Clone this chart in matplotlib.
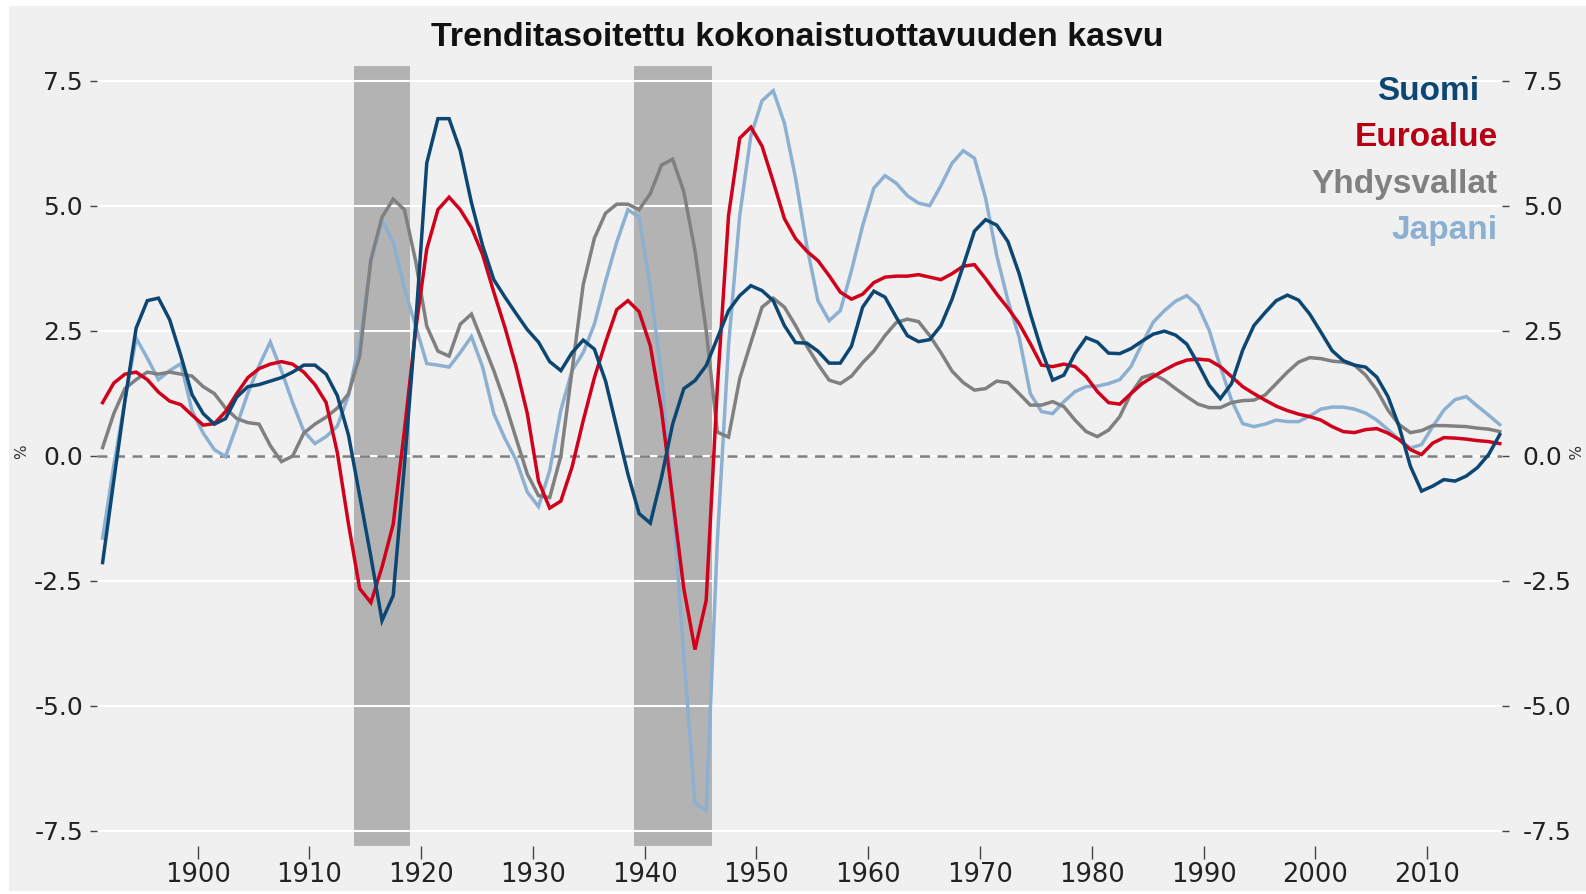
import matplotlib
matplotlib.use("Agg")
import matplotlib.pyplot as plt
import matplotlib.transforms as mtransforms
import numpy as np
from matplotlib.patches import Rectangle

plt.rcParams["axes.unicode_minus"] = False

# Annual values, 1891-2016 (%)
years = np.arange(1891, 2017)

suomi = [
    -2.14, -0.5, 1.1, 2.55, 3.1, 3.15, 2.72, 2.0, 1.22, 0.84,
    0.63, 0.74, 1.17, 1.38, 1.42, 1.49, 1.56, 1.67, 1.81, 1.81,
    1.63, 1.2, 0.41, -0.8, -2.02, -3.3, -2.8, -0.2, 2.6, 5.85,
    6.74, 6.74, 6.1, 5.06, 4.2, 3.52, 3.17, 2.84, 2.52, 2.27,
    1.88, 1.7, 2.06, 2.31, 2.13, 1.49, 0.56, -0.37, -1.16, -1.35,
    -0.44, 0.63, 1.34, 1.5, 1.8, 2.35, 2.9, 3.2, 3.4, 3.3,
    3.1, 2.6, 2.26, 2.25, 2.09, 1.85, 1.85, 2.19, 2.97, 3.29,
    3.17, 2.77, 2.4, 2.28, 2.32, 2.6, 3.13, 3.8, 4.49, 4.72,
    4.61, 4.28, 3.64, 2.84, 2.11, 1.51, 1.61, 2.04, 2.36, 2.27,
    2.05, 2.04, 2.14, 2.29, 2.43, 2.49, 2.41, 2.23, 1.84, 1.41,
    1.14, 1.44, 2.11, 2.6, 2.86, 3.1, 3.21, 3.11, 2.83, 2.47,
    2.1, 1.9, 1.81, 1.77, 1.57, 1.18, 0.58, -0.21, -0.71, -0.61,
    -0.48, -0.51, -0.41, -0.24, 0.02, 0.42,
]

euroalue = [
    1.06, 1.45, 1.63, 1.67, 1.52, 1.27, 1.09, 1.02, 0.81, 0.61,
    0.64, 0.88, 1.24, 1.56, 1.74, 1.83, 1.88, 1.83, 1.67, 1.42,
    1.06, 0.06, -1.37, -2.66, -2.94, -2.23, -1.37, 0.5, 2.5, 4.13,
    4.92, 5.17, 4.92, 4.56, 4.02, 3.27, 2.56, 1.77, 0.84, -0.51,
    -1.05, -0.91, -0.23, 0.7, 1.56, 2.27, 2.92, 3.1, 2.88, 2.2,
    0.91, -0.87, -2.66, -3.88, -2.9, 1.36, 4.8, 6.35, 6.57, 6.19,
    5.48, 4.74, 4.34, 4.09, 3.9, 3.6, 3.27, 3.13, 3.23, 3.46,
    3.57, 3.59, 3.59, 3.62, 3.57, 3.52, 3.64, 3.79, 3.82, 3.54,
    3.23, 2.95, 2.64, 2.24, 1.81, 1.78, 1.83, 1.78, 1.58, 1.28,
    1.06, 1.03, 1.24, 1.44, 1.58, 1.71, 1.83, 1.91, 1.93, 1.91,
    1.78, 1.58, 1.38, 1.24, 1.11, 0.99, 0.9, 0.83, 0.78, 0.71,
    0.58, 0.48, 0.46, 0.52, 0.54, 0.45, 0.32, 0.12, 0.02, 0.25,
    0.36, 0.35, 0.33, 0.3, 0.28, 0.24,
]

yhdysvallat = [
    0.16, 0.84, 1.34, 1.52, 1.67, 1.63, 1.67, 1.63, 1.59, 1.38,
    1.24, 0.95, 0.74, 0.66, 0.63, 0.2, -0.12, -0.01, 0.45, 0.63,
    0.77, 0.95, 1.24, 1.99, 3.92, 4.77, 5.13, 4.92, 3.9, 2.59,
    2.09, 1.99, 2.63, 2.83, 2.27, 1.7, 1.06, 0.34, -0.37, -0.8,
    -0.84, -0.01, 1.7, 3.42, 4.35, 4.85, 5.03, 5.03, 4.92, 5.24,
    5.81, 5.93, 5.28, 4.1, 2.5, 0.47, 0.37, 1.54, 2.26, 2.97,
    3.15, 2.97, 2.6, 2.19, 1.83, 1.51, 1.44, 1.59, 1.86, 2.09,
    2.4, 2.66, 2.73, 2.68, 2.4, 2.06, 1.69, 1.46, 1.31, 1.34,
    1.49, 1.46, 1.24, 1.01, 1.01, 1.08, 0.98, 0.71, 0.48, 0.38,
    0.51, 0.78, 1.24, 1.56, 1.63, 1.51, 1.34, 1.18, 1.03, 0.96,
    0.96, 1.06, 1.1, 1.11, 1.21, 1.44, 1.67, 1.87, 1.96, 1.94,
    1.89, 1.87, 1.81, 1.61, 1.31, 0.91, 0.62, 0.46, 0.5, 0.6,
    0.6, 0.59, 0.58, 0.55, 0.53, 0.48,
]

japani = [
    -1.65, -0.2, 1.1, 2.35, 1.95, 1.52, 1.7, 1.84, 0.9, 0.45,
    0.12, -0.02, 0.6, 1.25, 1.8, 2.27, 1.7, 1.06, 0.49, 0.24,
    0.38, 0.59, 1.2, 2.3, 3.85, 4.7, 4.27, 3.35, 2.6, 1.84,
    1.81, 1.77, 2.06, 2.38, 1.77, 0.84, 0.34, -0.09, -0.73, -1.02,
    -0.3, 0.91, 1.7, 2.06, 2.63, 3.49, 4.27, 4.92, 4.77, 3.35,
    1.63, -0.9, -4.0, -6.95, -7.1, -1.7, 2.2, 4.8, 6.4, 7.1,
    7.3, 6.65, 5.55, 4.2, 3.1, 2.7, 2.9, 3.7, 4.6, 5.35,
    5.6, 5.45, 5.2, 5.05, 5.0, 5.4, 5.85, 6.1, 5.95, 5.15,
    4.0, 3.1, 2.37, 1.24, 0.88, 0.84, 1.08, 1.28, 1.38, 1.39,
    1.44, 1.52, 1.78, 2.24, 2.67, 2.9, 3.09, 3.2, 3.0, 2.51,
    1.78, 1.11, 0.64, 0.58, 0.63, 0.71, 0.68, 0.68, 0.79, 0.93,
    0.97, 0.97, 0.93, 0.85, 0.71, 0.52, 0.32, 0.15, 0.22, 0.58,
    0.91, 1.12, 1.18, 0.99, 0.81, 0.62,
]

# War periods shaded
wars = [(1914, 1919), (1939, 1946)]

# drawing order: Suomi last so it sits on top
series = [
    ("Japani", japani, "#8cb0d1"),
    ("Yhdysvallat", yhdysvallat, "#808080"),
    ("Euroalue", euroalue, "#d0021b"),
    ("Suomi", suomi, "#0c4672"),
]
legend_order = ["Suomi", "Euroalue", "Yhdysvallat", "Japani"]
legend_colors = {"Suomi": "#0c4672", "Euroalue": "#b80014",
                 "Yhdysvallat": "#808080", "Japani": "#8cb0d1"}

title = "Trenditasoitettu kokonaistuottavuuden kasvu"
yticks = [-7.5, -5.0, -2.5, 0.0, 2.5, 5.0, 7.5]
xticks = list(range(1900, 2011, 10))

W, H = 1586, 894
fig = plt.figure(figsize=(W / 100, H / 100), dpi=100)
fig.patch.set_facecolor("white")
fig.patches.append(Rectangle((9 / W, 3 / H), 1 - 9 / W, 1 - 9 / H,
                             transform=fig.transFigure, facecolor="#f0f0f0",
                             edgecolor="none", zorder=-10))

ax = fig.add_axes([97 / W, 48.5 / H, (1502 - 97) / W, (845.5 - 65.7) / H])
ax.set_facecolor("#f0f0f0")

for start, end in wars:
    ax.axvspan(start, end, color="#b3b3b3", lw=0, zorder=0.3)

# annual points plotted at mid-year
x = years + 0.5
for name, vals, col in series:
    ax.plot(x, vals, color=col, lw=2.5, zorder=3, solid_joinstyle="miter")

ax.axhline(0, color="#808080", lw=1.8, ls=(0, (4, 3)), zorder=2)

ax.set_xlim(1891, 2016.7)
ax.set_ylim(-7.8, 7.8)
ax.set_axisbelow(True)
ax.grid(axis="y", color="white", lw=1.5)
ax.grid(axis="x", visible=False)
for sp in ax.spines.values():
    sp.set_visible(False)

ax.set_yticks(yticks)
ax.set_yticklabels([f"{v:.1f}" for v in yticks])
ax.set_xticks(xticks)
ax.tick_params(axis="y", left=True, right=True, labelleft=True,
               labelright=True, length=5, width=1, pad=5,
               color="#444444", labelsize=18, labelcolor="#222222")
ax.tick_params(axis="x", length=9, width=1, color="#444444", pad=3,
               labelsize=18.5, labelcolor="#222222")

# wider gap before the right-hand labels
offset = mtransforms.ScaledTranslation(5 / 72, 0, fig.dpi_scale_trans)
for t in ax.yaxis.get_major_ticks():
    t.label2.set_transform(t.label2.get_transform() + offset)

fig.text(22 / W, 1 - 452 / H, "%", rotation=90, ha="center", va="center",
         fontsize=11, color="#333333")
fig.text(1572 / W, 1 - 452 / H, "%", rotation=270, ha="center", va="center",
         fontsize=11, color="#333333")

fig.text(797 / W, 1 - 37 / H, title, ha="center", va="center",
         fontsize=24.5, fontweight="bold", family="Liberation Sans",
         color="#111111")

label_y = [91, 138, 184, 231]
label_x = [1479, 1498, 1498, 1498]
for name, ly, lx in zip(legend_order, label_y, label_x):
    fig.text(lx / W, 1 - ly / H, name, ha="right", va="center",
             fontsize=24, fontweight="bold", family="Liberation Sans",
             color=legend_colors[name])

fig.savefig("out.png", dpi=100, facecolor=fig.get_facecolor())
